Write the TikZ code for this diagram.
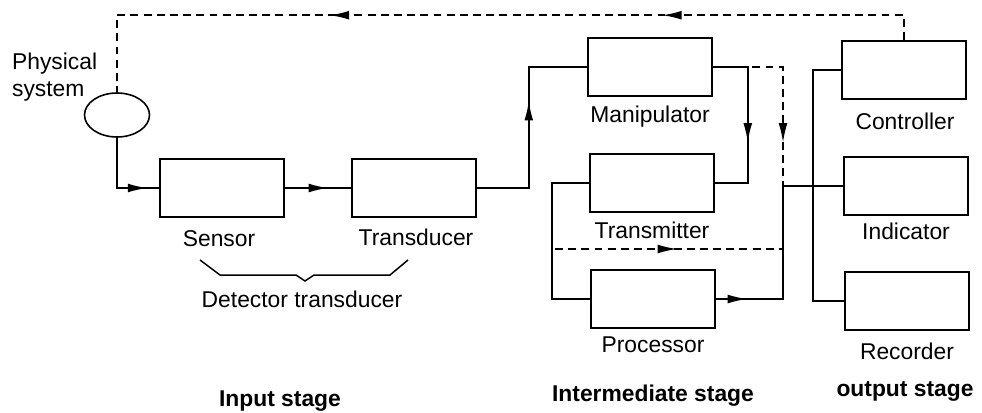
\documentclass[tikz,border=0pt]{standalone}
\usepackage{fontspec}
\newfontfamily\diagfont{Liberation Sans}
\usetikzlibrary{shapes.geometric, positioning, arrows.meta, decorations.markings}
\tikzset{
  blockbox/.style={rectangle, draw=black, line width=0.9pt, minimum width=2.48cm, minimum height=1.16cm, inner sep=0pt},
  plantnode/.style={ellipse, draw=black, line width=0.9pt, minimum width=1.3cm, minimum height=0.88cm, inner sep=0pt},
  lbl/.style={font=\diagfont\fontsize{13}{15}\selectfont, inner sep=1pt},
  stagelbl/.style={font=\diagfont\bfseries\fontsize{13}{15}\selectfont, inner sep=1pt},
  wire/.style={line width=0.85pt},
  dwire/.style={line width=0.85pt, dash pattern=on 4.5pt off 3pt},
  arrowat/.style={postaction={decorate, decoration={markings, mark=at position #1 with {\arrow{Latex[length=11pt,width=5pt]}}}}}
}

\begin{document}
\begin{tikzpicture}[x=0.02cm, y=-0.02cm]
    \useasboundingbox (0,0) rectangle (982,412);

    % Sistema fisico y etapa de entrada
    \node[plantnode] (phys) at (117,115) {};
    \node[lbl, anchor=west, align=left] (physlbl) at (10,77) {Physical\\system};

    \node[blockbox] (sen) at (222,188) {};
    \node[blockbox] (trd) at (414,188) {};
    \node[lbl] (senlbl) at (219,239) {Sensor};
    \node[lbl] (trdlbl) at (416,237) {Transducer};

    % llave bajo sensor y transductor
    \draw[wire] (200,260) -- (220,275) -- (296,275) -- (305,281) -- (314,275) -- (390,275) -- (408,260);
    \node[lbl] (detlbl) at (302,299) {Detector transducer};

    % Etapa intermedia
    \node[blockbox] (man) at (650,67) {};
    \node[blockbox] (tm) at (652,183) {};
    \node[blockbox] (proc) at (653,299) {};
    \node[lbl] (manlbl) at (650,117) {Manipulator};
    \node[lbl] (tmlbl) at (652,230) {Transmitter};
    \node[lbl] (proclbl) at (653,345) {Processor};

    % Etapa de salida
    \node[blockbox] (ctl) at (904,70) {};
    \node[blockbox] (ind) at (906,186) {};
    \node[blockbox] (rec) at (907,301) {};
    \node[lbl] (ctllbl) at (905,121) {Controller};
    \node[lbl] (indlbl) at (906,231) {Indicator};
    \node[lbl] (reclbl) at (907,351) {Recorder};

    % Titulos de etapas
    \node[stagelbl] (instage) at (280,401) {Input stage};
    \node[stagelbl] (midstage) at (653,396) {Intermediate stage};
    \node[stagelbl] (outstage) at (905,391) {output stage};

    % -------------------------------------------------------------
    % CONEXIONES
    % -------------------------------------------------------------
    \coordinate (j1) at (783,186);
    \coordinate (dl) at (555,249);
    \coordinate (dr) at (783,249);

    \draw[wire, arrowat=0.87] (phys.south) |- (sen.west);
    \draw[wire, arrowat=0.65] (sen.east) -- (trd.west);
    \draw[wire, arrowat=0.60] (trd.east) -- ++(52,0) |- (man.west);
    \draw[wire, arrowat=0.60] (man.east) -- ++(35,0) |- (tm.east);
    \draw[dwire, arrowat=0.77] (man.east) -| (j1);
    \draw[wire] (tm.west) -- ++(-37,0) |- (proc.west);
    \draw[dwire, arrowat=0.535] (dl) -- (dr);
    \draw[wire, arrowat=0.13] (proc.east) -| (j1) -- (j1 -| ind.west);

    % bus de salida
    \draw[wire] (ctl.west) -- ++(-28,0) |- (rec.west);

    % realimentacion al sistema fisico
    \draw[dwire, arrowat=0.30, arrowat=0.674] (ctl.north) -- ++(0,-25) -| (phys.north);

\end{tikzpicture}
\end{document}
